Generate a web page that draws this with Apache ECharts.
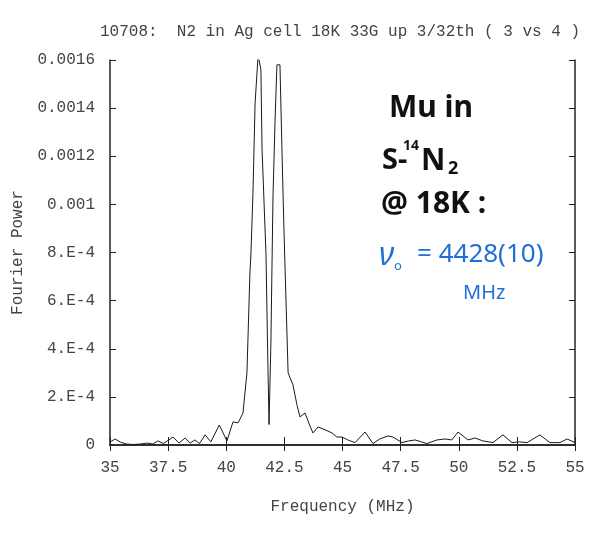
<!DOCTYPE html>
<html>
<head>
<meta charset="utf-8">
<script src="https://cdn.jsdelivr.net/npm/echarts@6/dist/echarts.min.js"></script>
<style>
html,body{margin:0;padding:0;background:#fff;}
#chart{width:608px;height:537px;}
</style>
</head>
<body>
<div id="chart"></div>
<script>
// Frequency (MHz) sample positions
var freq = [35.0, 35.22, 35.45, 35.7, 36.0, 36.3, 36.6, 36.85, 37.06, 37.3, 37.71, 37.97, 38.23, 38.45, 38.65, 38.85, 39.09, 39.34, 39.7, 40.03,
  40.29, 40.51, 40.72, 40.89, 41.02, 41.06, 41.15, 41.24, 41.37, 41.49, 41.54, 41.71, 41.77, 41.84,
  41.92, 42.01, 42.10, 42.18, 42.31, 42.40, 42.48, 42.66, 42.74, 42.87, 43.04, 43.17, 43.39, 43.60, 43.73, 43.95, 44.25, 44.55, 44.76,
  44.98, 45.25, 45.54, 45.97, 46.31, 46.6, 46.96, 47.17, 47.56, 47.85, 48.12, 48.4, 48.63, 49.06, 49.41, 49.7, 49.97,
  50.40, 50.70, 51.04, 51.47, 51.90, 52.29, 52.6, 52.94, 53.49, 53.92, 54.35, 54.66, 55.0];
// Fourier power at each frequency
var power = [1.2e-5, 2.5e-5, 1.2e-5, 4e-6, 2e-6, 4e-6, 8e-6, 4e-6, 1.7e-5, 6e-6, 3.3e-5, 8e-6, 2.9e-5, 8e-6, 2.1e-5, 6e-6, 4.2e-5, 1.3e-5, 8.3e-5, 1.7e-5,
  9.6e-5, 9.2e-5, 1.33e-4, 3.0e-4, 7.2e-4, 7.9e-4, 1.05e-3, 1.42e-3, 1.62e-3, 1.56e-3, 1.23e-3, 7.9e-4, 4.5e-4, 8.5e-5,
  4.2e-4, 1.03e-3, 1.35e-3, 1.58e-3, 1.58e-3, 1.21e-3, 9.0e-4, 3.0e-4, 2.8e-4, 2.5e-4, 1.67e-4, 1.17e-4, 1.33e-4, 7.9e-5, 5.0e-5, 7.5e-5, 6.3e-5, 5.0e-5, 3.3e-5,
  3.3e-5, 2.0e-5, 1.0e-5, 5.4e-5, 6e-6, 2.5e-5, 3.75e-5, 3.3e-5, 1.0e-5, 1.7e-5, 2.1e-5, 1.3e-5, 6e-6, 2.1e-5, 2.5e-5, 2.1e-5, 5.4e-5,
  2.1e-5, 2.9e-5, 1.7e-5, 1.0e-5, 4.2e-5, 1.0e-5, 1.3e-5, 1.0e-5, 4.2e-5, 1.0e-5, 1.0e-5, 2.5e-5, 1.0e-5];
var baselineLevel = 1.2e-5;
var yTickValues = [0, 0.0002, 0.0004, 0.0006, 0.0008, 0.001, 0.0012, 0.0014, 0.0016];
var yTickLabels = ['0', '2.E-4', '4.E-4', '6.E-4', '8.E-4', '0.001', '0.0012', '0.0014', '0.0016'];
var xTickLabels = ['35', '37.5', '40', '42.5', '45', '47.5', '50', '52.5', '55'];
var titleText = '10708:  N2 in Ag cell 18K 33G up 3/32th ( 3 vs 4 )';

var seriesData = freq.map(function (f, i) { return [f, power[i]]; });

var mono = 'Liberation Mono';
var axisCol = '#222';
var labelCol = '#444';

function yLabel(v) {
  for (var i = 0; i < yTickValues.length; i++) {
    if (Math.abs(v - yTickValues[i]) < 1e-9) return yTickLabels[i];
  }
  return '';
}
function xLabel(v) {
  var idx = Math.round((v - 35) / 2.5);
  return xTickLabels[idx] !== undefined ? xTickLabels[idx] : '';
}

var chart = echarts.init(document.getElementById('chart'), null, {renderer: 'canvas'});
var hand = 'Noto Sans';
var blue = '#1f6fd8';
chart.setOption({
  animation: false,
  backgroundColor: '#fff',
  title: {
    text: titleText,
    left: 95, top: 19,
    textStyle: {fontFamily: mono, fontSize: 16, fontWeight: 'normal', color: labelCol}
  },
  grid: {left: 110, top: 60, right: 33, bottom: 92},
  xAxis: [{
    type: 'value', min: 35, max: 55, interval: 2.5, position: 'bottom',
    name: 'Frequency (MHz)', nameLocation: 'middle', nameGap: 54,
    nameTextStyle: {fontFamily: mono, fontSize: 16, color: labelCol},
    axisLine: {lineStyle: {color: axisCol, width: 1.5}},
    axisTick: {inside: true, length: 8, lineStyle: {color: axisCol}},
    axisLabel: {fontFamily: mono, fontSize: 16, color: labelCol, margin: 15, formatter: xLabel},
    splitLine: {show: false}
  }, {
    type: 'value', min: 35, max: 55, interval: 2.5, position: 'top',
    axisLine: {lineStyle: {color: axisCol, width: 1.5}},
    axisTick: {inside: true, length: 6, lineStyle: {color: axisCol}},
    axisLabel: {show: false}, splitLine: {show: false}
  }],
  yAxis: [{
    type: 'value', min: 0, max: 0.0016, interval: 0.0002, position: 'left',
    name: 'Fourier Power', nameLocation: 'middle', nameGap: 84,
    nameTextStyle: {fontFamily: mono, fontSize: 16, color: labelCol},
    axisLine: {show: true, lineStyle: {color: axisCol, width: 1.5}},
    axisTick: {show: true, inside: true, length: 6, lineStyle: {color: axisCol}},
    axisLabel: {fontFamily: mono, fontSize: 16, color: labelCol, margin: 15, formatter: yLabel},
    splitLine: {show: false}
  }, {
    type: 'value', min: 0, max: 0.0016, interval: 0.0002, position: 'right',
    axisLine: {show: true, lineStyle: {color: axisCol, width: 1.5}},
    axisTick: {show: true, inside: true, length: 6, lineStyle: {color: axisCol}},
    axisLabel: {show: false}, splitLine: {show: false}
  }],
  series: [{
    type: 'line',
    data: seriesData,
    showSymbol: false,
    clip: true,
    lineStyle: {color: '#1a1a1a', width: 1},
    markLine: {
      silent: true, symbol: 'none', label: {show: false},
      lineStyle: {color: '#333', type: 'dotted', width: 1},
      data: [{yAxis: baselineLevel}]
    }
  }],
  graphic: [
    {type: 'text', x: 389, y: 108, style: {text: 'Mu in', fontFamily: hand, fontSize: 30, fontWeight: 'bold', fill: '#111', align: 'left', verticalAlign: 'middle'}},
    {type: 'text', x: 382, y: 161, style: {text: 'S-', fontFamily: hand, fontSize: 29, fontWeight: 'bold', fill: '#111', align: 'left', verticalAlign: 'middle'}},
    {type: 'text', x: 403, y: 146, style: {text: '14', fontFamily: hand, fontSize: 14, fontWeight: 'bold', fill: '#111', align: 'left', verticalAlign: 'middle'}},
    {type: 'text', x: 421, y: 161, style: {text: 'N', fontFamily: hand, fontSize: 30, fontWeight: 'bold', fill: '#111', align: 'left', verticalAlign: 'middle'}},
    {type: 'text', x: 448, y: 169, style: {text: '2', fontFamily: hand, fontSize: 18, fontWeight: 'bold', fill: '#111', align: 'left', verticalAlign: 'middle'}},
    {type: 'text', x: 381, y: 204, style: {text: '@ 18K :', fontFamily: hand, fontSize: 30, fontWeight: 'bold', fill: '#111', align: 'left', verticalAlign: 'middle'}},
    {type: 'text', x: 379, y: 256, style: {text: 'ν', fontFamily: hand, fontSize: 32, fontStyle: 'italic', fill: blue, align: 'left', verticalAlign: 'middle'}},
    {type: 'text', x: 394, y: 266, style: {text: 'o', fontFamily: hand, fontSize: 13, fill: blue, align: 'left', verticalAlign: 'middle'}},
    {type: 'text', x: 417, y: 255, style: {text: '= 4428(10)', fontFamily: hand, fontSize: 26, fill: blue, align: 'left', verticalAlign: 'middle'}},
    {type: 'text', x: 463, y: 293, style: {text: 'MHz', fontFamily: hand, fontSize: 20, fill: blue, align: 'left', verticalAlign: 'middle'}}
  ]
});
</script>
</body>
</html>
